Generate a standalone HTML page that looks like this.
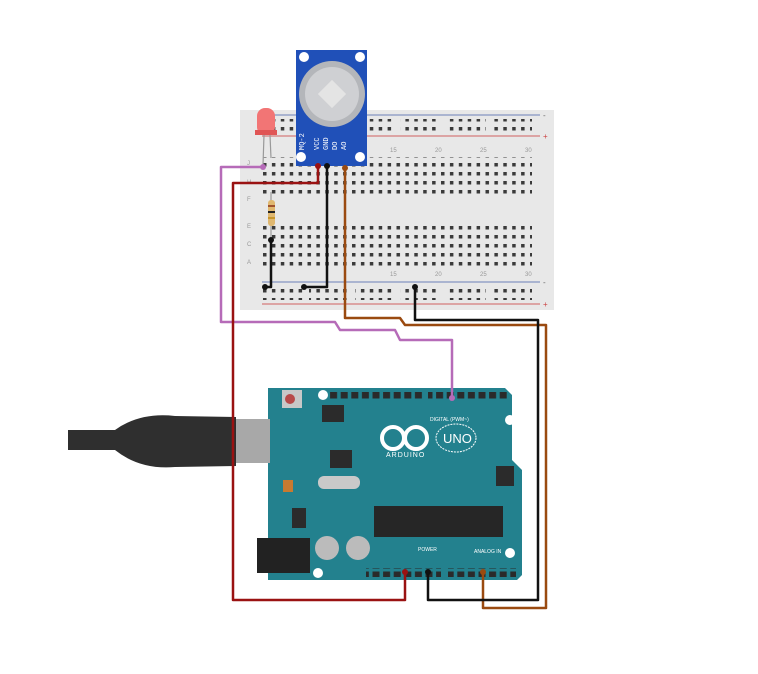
<!DOCTYPE html>
<html><head><meta charset="utf-8"><style>html,body{margin:0;padding:0;background:#fff}svg{display:block}</style></head>
<body>
<svg width="758" height="674" viewBox="0 0 758 674" xmlns="http://www.w3.org/2000/svg" font-family="Liberation Sans, sans-serif">
<defs>
<pattern id="h" x="262" y="0" width="8.9" height="9" patternUnits="userSpaceOnUse"><rect x="1" y="1" width="3.5" height="3.5" fill="#3a3a3a"/></pattern>
<pattern id="ah" x="0" y="0" width="10.6" height="10" patternUnits="userSpaceOnUse"><rect x="1.5" y="1.5" width="7" height="7" fill="#2a2a2a"/></pattern>
</defs>
<rect width="758" height="674" fill="#fff"/>
<!-- breadboard -->
<rect x="240" y="110" width="314" height="200" fill="#e8e8e8"/>
<line x1="262" y1="115" x2="540" y2="115" stroke="#6b7fb8" stroke-width="1"/>
<line x1="262" y1="136" x2="540" y2="136" stroke="#d06060" stroke-width="1"/>
<line x1="262" y1="282" x2="540" y2="282" stroke="#6b7fb8" stroke-width="1"/>
<line x1="262" y1="304" x2="540" y2="304" stroke="#d06060" stroke-width="1"/>
<text x="543" y="118" font-size="8" fill="#666">-</text><text x="543" y="139" font-size="8" fill="#c44">+</text>
<text x="543" y="285" font-size="8" fill="#666">-</text><text x="543" y="307" font-size="8" fill="#c44">+</text>
<rect x="262" y="119" width="270" height="14" fill="url(#h)"/>
<rect x="262" y="286" width="270" height="14" fill="url(#h)"/>
<rect x="262" y="157" width="270" height="40" fill="url(#h)"/>
<rect x="262" y="222" width="270" height="45" fill="url(#h)"/>
<g fill="#e8e8e8"><rect x="304" y="118" width="5" height="16"/><rect x="350" y="118" width="5" height="16"/><rect x="395" y="118" width="5" height="16"/><rect x="440" y="118" width="5" height="16"/><rect x="486" y="118" width="5" height="16"/>
<rect x="304" y="285" width="5" height="16"/><rect x="350" y="285" width="5" height="16"/><rect x="395" y="285" width="5" height="16"/><rect x="440" y="285" width="5" height="16"/><rect x="486" y="285" width="5" height="16"/></g>
<g font-size="6" fill="#999"><text x="247" y="165">J</text><text x="247" y="184">H</text><text x="247" y="201">F</text><text x="247" y="228">E</text><text x="247" y="246">C</text><text x="247" y="264">A</text>
<text x="390" y="152">15</text><text x="435" y="152">20</text><text x="480" y="152">25</text><text x="525" y="152">30</text>
<text x="390" y="276">15</text><text x="435" y="276">20</text><text x="480" y="276">25</text><text x="525" y="276">30</text></g>
<!-- resistor -->
<line x1="271" y1="192" x2="271" y2="238" stroke="#aaa" stroke-width="1.5"/>
<rect x="268" y="200" width="7" height="26" rx="3" fill="#e0b870"/>
<rect x="268" y="205" width="7" height="2" fill="#a0522d"/><rect x="268" y="211" width="7" height="2" fill="#222"/><rect x="268" y="217" width="7" height="2" fill="#c8962d"/>
<!-- LED -->
<line x1="264" y1="135" x2="263" y2="165" stroke="#999" stroke-width="1.2"/><line x1="270" y1="135" x2="271" y2="158" stroke="#999" stroke-width="1.2"/>
<rect x="257" y="108" width="18" height="27" rx="8" fill="#f27575"/><rect x="255" y="130" width="22" height="5" fill="#e05555"/>
<!-- sensor -->
<rect x="296" y="50" width="71" height="116" fill="#2050b8"/>
<circle cx="304" cy="57" r="5" fill="#fff"/><circle cx="360" cy="57" r="5" fill="#fff"/>
<circle cx="301" cy="157" r="5" fill="#fff"/><circle cx="360" cy="157" r="5" fill="#fff"/>
<circle cx="332" cy="94" r="33" fill="#b4b6ba"/><circle cx="332" cy="94" r="27" fill="#cfd0d3"/>
<rect x="322" y="84" width="20" height="20" fill="#e4e4e4" transform="rotate(45 332 94)"/>
<g font-size="7" fill="#fff" font-family="Liberation Mono, monospace"><text transform="translate(304,150) rotate(-90)">MQ-2</text><text transform="translate(319,150) rotate(-90)">VCC</text><text transform="translate(328,150) rotate(-90)">GND</text><text transform="translate(337,150) rotate(-90)">DO</text><text transform="translate(346,150) rotate(-90)">AO</text></g>
<!-- arduino -->
<path d="M268 388 L505 388 L512 395 L512 460 L522 470 L522 575 L517 580 L268 580 Z" fill="#23818e"/>
<rect x="322" y="392" width="102" height="9" fill="url(#ah)"/>
<rect x="428" y="392" width="80" height="9" fill="url(#ah)"/>
<rect x="366" y="568" width="75" height="9" fill="url(#ah)"/>
<rect x="448" y="568" width="68" height="9" fill="url(#ah)"/>
<circle cx="323" cy="395" r="5" fill="#fff"/><circle cx="510" cy="420" r="5" fill="#fff"/><circle cx="510" cy="553" r="5" fill="#fff"/><circle cx="318" cy="573" r="5" fill="#fff"/>
<rect x="282" y="390" width="20" height="18" fill="#c8c8c8"/><circle cx="290" cy="399" r="5" fill="#b84a4a"/>
<rect x="322" y="405" width="22" height="17" fill="#2b2b2b"/>
<rect x="374" y="506" width="129" height="31" fill="#262626"/>
<rect x="257" y="538" width="53" height="35" fill="#222"/>
<circle cx="327" cy="548" r="12" fill="#bbb"/><circle cx="358" cy="548" r="12" fill="#bbb"/>
<rect x="318" y="476" width="42" height="13" rx="6" fill="#c9c9c9"/>
<rect x="330" y="450" width="22" height="18" fill="#2b2b2b"/>
<rect x="496" y="466" width="18" height="20" fill="#2b2b2b"/>
<rect x="283" y="480" width="10" height="12" fill="#c87a30"/>
<rect x="292" y="508" width="14" height="20" fill="#2b2b2b"/>
<circle cx="393" cy="438" r="11" fill="none" stroke="#fff" stroke-width="4"/><circle cx="416" cy="438" r="11" fill="none" stroke="#fff" stroke-width="4"/>
<ellipse cx="456" cy="438" rx="20" ry="14" fill="none" stroke="#fff" stroke-width="1" stroke-dasharray="2 1"/>
<text x="443" y="443" font-size="13" fill="#fff">UNO</text>
<text x="386" y="457" font-size="7" fill="#fff" letter-spacing="1">ARDUINO</text>
<text x="430" y="421" font-size="5" fill="#fff">DIGITAL (PWM~)</text>
<text x="474" y="553" font-size="5" fill="#fff">ANALOG IN</text>
<text x="418" y="551" font-size="5" fill="#fff">POWER</text>
<!-- USB -->
<rect x="236" y="419" width="34" height="44" fill="#a8a8a8"/>
<path d="M68 430 L115 430 Q140 412 175 416 L236 417 L236 466 L175 467 Q140 470 115 450 L68 450 Z" fill="#2f2f2f"/>
<!-- wires -->
<g fill="none" stroke-width="2.5" stroke-linejoin="round">
<path d="M263 167 L221 167 L221 322 L335 322 L340 330 L395 330 L400 340 L452 340 L452 398" stroke="#b66bb8"/>
<path d="M318 166 L318 183 L233 183 L233 600 L405 600 L405 572" stroke="#9a1212"/>
<path d="M327 166 L327 287 L304 287" stroke="#111"/>
<path d="M271 240 L271 287 L265 287" stroke="#111"/>
<path d="M345 168 L345 318 L400 318 L405 325 L546 325 L546 608 L483 608 L483 572" stroke="#9a4a10"/>
<path d="M415 287 L415 320 L538 320 L538 600 L428 600 L428 572" stroke="#111"/>
</g>
<g><circle cx="263" cy="167" r="3" fill="#b66bb8"/><circle cx="318" cy="166" r="3" fill="#9a1212"/><circle cx="327" cy="166" r="3" fill="#111"/><circle cx="345" cy="168" r="3" fill="#9a4a10"/><circle cx="304" cy="287" r="3" fill="#111"/><circle cx="265" cy="287" r="3" fill="#111"/><circle cx="271" cy="240" r="3" fill="#111"/><circle cx="415" cy="287" r="3" fill="#111"/><circle cx="452" cy="398" r="3" fill="#b66bb8"/><circle cx="405" cy="572" r="3" fill="#9a1212"/><circle cx="428" cy="572" r="3" fill="#111"/><circle cx="483" cy="572" r="3" fill="#9a4a10"/></g>
</svg>
</body></html>
